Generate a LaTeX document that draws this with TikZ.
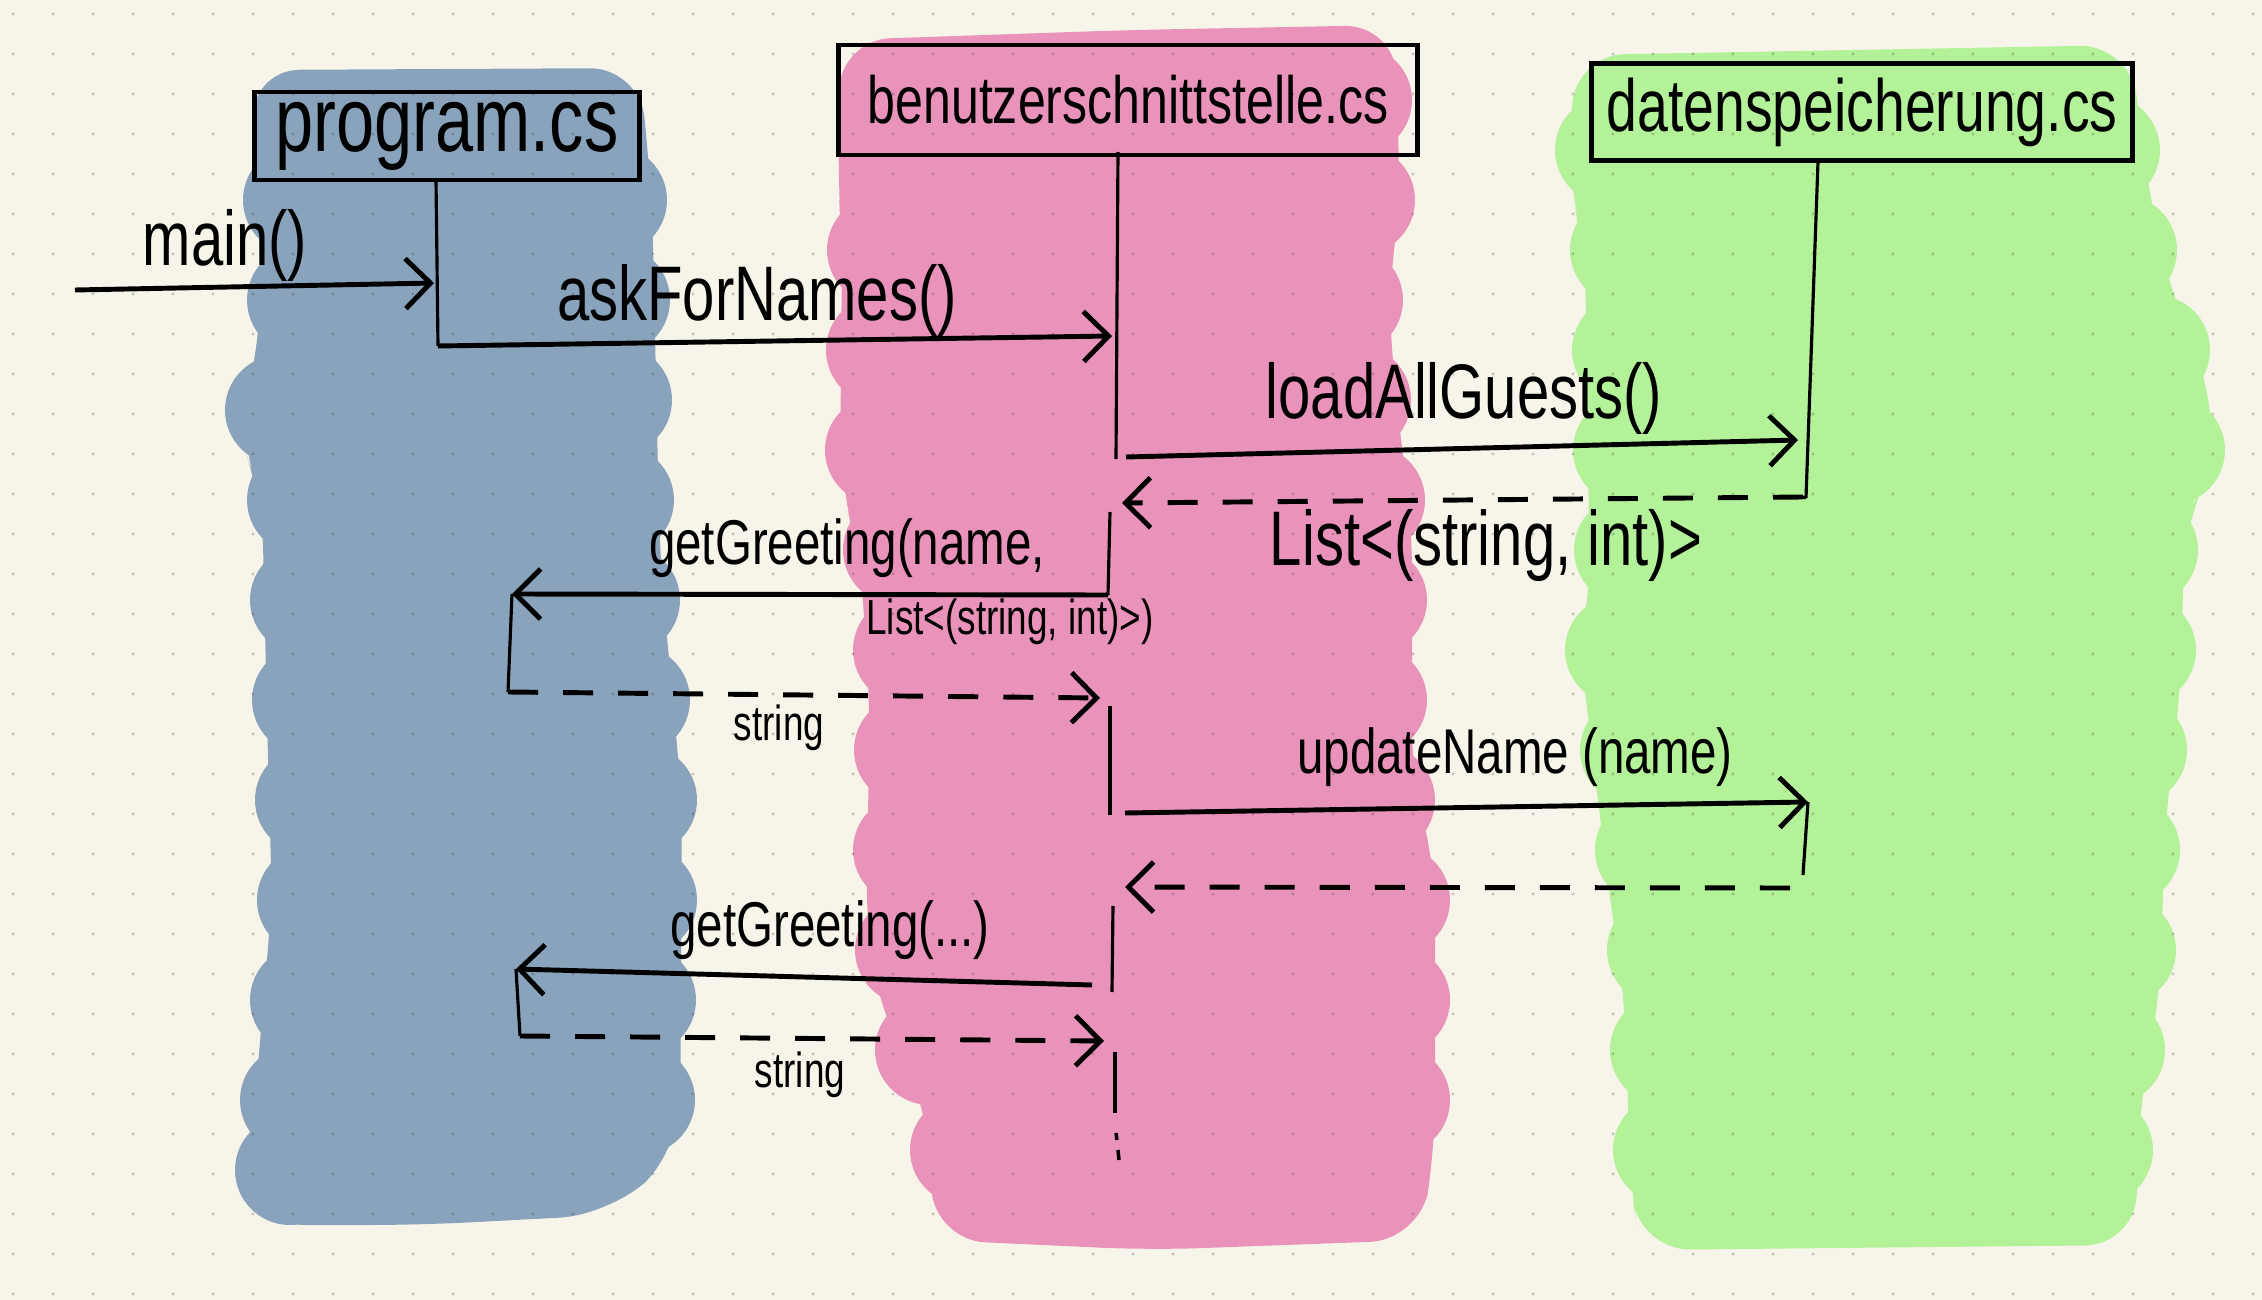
\documentclass[tikz,border=0pt]{standalone}
\usepackage{fontspec}
\setmainfont{Liberation Sans}[FakeStretch=0.75]
\usetikzlibrary{arrows.meta}
\definecolor{papier}{RGB}{247,245,234}
\definecolor{blau}{RGB}{138,163,188}
\definecolor{rosa}{RGB}{234,147,186}
\definecolor{gruen}{RGB}{180,242,154}
\begin{document}
\begin{tikzpicture}[x=0.01cm, y=-0.01cm,
        kopf/.style = {draw, line width=1.4pt, inner sep=0pt},
        lbl/.style = {font=\fontsize{22}{26}\selectfont, inner sep=0pt},
        lblm/.style = {font=\fontsize{18}{21}\selectfont, inner sep=0pt},
        lbls/.style = {font=\fontsize{14}{16}\selectfont, inner sep=0pt},
        leben/.style = {line width=0.9pt},
        msg/.style = {line width=1.4pt, -{Straight Barb[length=2.5mm, width=5mm, line width=1.4pt]}},
        ret/.style = {msg, dash pattern=on 3mm off 2.5mm}]
                \fill[papier] (0,0) rectangle (2262,1300);
                \useasboundingbox (0,0) rectangle (2262,1300);

                \fill[blau, rounded corners=0.5cm] (250,70) -- (640,68) -- (652,200) -- (660,560) -- (682,800) -- (680,1150) -- (610,1215) -- (420,1225) -- (255,1225) -- (250,1160) -- (272,900) -- (268,760) -- (262,500) -- (238,430) -- (262,330) -- (258,200) -- cycle;
                \foreach \cx/\cy in {298/200, 302/300, 280/410, 302/500, 305/600, 307/700, 310/800, 312/900, 305/1000, 295/1100, 290/1170,
                                     612/200, 615/300, 617/400, 619/500, 625/600, 635/700, 642/800, 642/900, 641/1000, 640/1100}
                    \fill[blau] (\cx,\cy) circle (55);
                \fill[rosa, rounded corners=0.5cm] (840,40) -- (1130,30) -- (1395,25) -- (1400,200) -- (1388,300) -- (1398,420) -- (1412,520) -- (1412,780) -- (1435,860) -- (1435,1150) -- (1420,1240) -- (1150,1250) -- (935,1240) -- (925,1100) -- (880,1010) -- (866,930) -- (870,700) -- (860,560) -- (840,480) -- (842,250) -- (838,180) -- cycle;
                \foreach \cx/\cy in {882/250, 881/350, 880/450, 898/550, 908/650, 909/750, 908/850, 910/950, 930/1050, 965/1150,
                                     1357/100, 1360/200, 1348/300, 1356/400, 1370/500, 1372/600, 1372/700, 1380/800, 1395/900, 1395/1000, 1395/1100}
                    \fill[rosa] (\cx,\cy) circle (55);
                \fill[gruen, rounded corners=0.5cm] (1575,55) -- (2130,45) -- (2150,200) -- (2170,290) -- (2215,400) -- (2210,470) -- (2185,520) -- (2180,700) -- (2165,820) -- (2160,1000) -- (2140,1100) -- (2135,1245) -- (1640,1250) -- (1630,1180) -- (1625,1000) -- (1610,900) -- (1580,650) -- (1590,600) -- (1585,250) -- (1568,180) -- cycle;
                \foreach \cx/\cy in {1610/150, 1625/250, 1627/350, 1628/450, 1629/550, 1620/650, 1635/750, 1650/850, 1662/950, 1665/1050, 1668/1150,
                                     2105/150, 2122/250, 2155/350, 2170/450, 2143/550, 2141/650, 2132/750, 2125/850, 2121/950, 2110/1050, 2098/1150}
                    \fill[gruen] (\cx,\cy) circle (55);

                \foreach \i in {0,...,56}
                    \foreach \j in {0,...,32}
                        \fill[black, opacity=0.2] (13+40*\i, 14+40*\j) circle (1.7);

                \node[kopf, minimum width=3.85cm, minimum height=0.88cm, font=\fontsize{26}{30}\selectfont] (prg) at (447,136) {program.cs};
                \node[kopf, minimum width=5.79cm, minimum height=1.1cm, font=\fontsize{19}{22}\selectfont] (ui) at (1128,100) {benutzerschnittstelle.cs};
                \node[kopf, minimum width=5.41cm, minimum height=0.97cm, font=\fontsize{21}{24}\selectfont] (db) at (1862,112) {datenspeicherung.cs};

                \coordinate (prgT) at (436,180);
                \coordinate (prgA) at (438,346);
                \coordinate (prgM) at (434,283);
                \coordinate (mainS) at (75,290);
                \coordinate (uiT) at (1118,152);
                \coordinate (uiB) at (1116,459);
                \coordinate (uiA) at (1112,336);
                \coordinate (uiL) at (1126,457);
                \coordinate (dbT) at (1818,162);
                \coordinate (dbB) at (1806,498);
                \coordinate (dbL) at (1798,440);
                \coordinate (dbR) at (1803,497);
                \coordinate (uiR) at (1122,503);
                \coordinate (uiG1) at (1110,512);
                \coordinate (uiG2) at (1108,595);
                \coordinate (prgG1) at (512,594);
                \coordinate (prgG2) at (508,692);
                \coordinate (uiS) at (1100,698);
                \coordinate (uiU1) at (1110,706);
                \coordinate (uiU2) at (1110,815);
                \coordinate (uiU3) at (1125,813);
                \coordinate (dbU) at (1808,802);
                \coordinate (dbU2) at (1803,875);
                \coordinate (dbV) at (1790,888);
                \coordinate (uiV) at (1125,887);
                \coordinate (uiV1) at (1113,906);
                \coordinate (uiV2) at (1112,992);
                \coordinate (uiV3) at (1092,985);
                \coordinate (prgV) at (516,969);
                \coordinate (prgW) at (520,1036);
                \coordinate (uiW) at (1104,1041);
                \coordinate (uiX1) at (1115,1052);
                \coordinate (uiX2) at (1115,1113);

                \draw[leben] (prgT) to (prgA);
                \draw[leben] (uiT) to (uiB);
                \draw[leben] (dbT) to (dbB);
                \draw[leben] (dbB) to (dbR);
                \draw[leben] (uiG1) to (uiG2);
                \draw[leben] (prgG1) to (prgG2);
                \draw[leben] (uiU1) to (uiU2);
                \draw[leben] (dbU) to (dbU2);
                \draw[leben] (uiV1) to (uiV2);
                \draw[leben] (prgV) to (prgW);
                \draw[leben] (uiX1) to (uiX2);
                \draw[line width=1pt] (1116,1133) to (1117,1140);
                \draw[line width=1pt] (1118,1150) to (1119,1160);

                \draw[msg] (mainS) to (prgM);
                \draw[msg] (prgA) to (uiA);
                \draw[msg] (uiL) to (dbL);
                \draw[ret] (dbR) to (uiR);
                \draw[msg] (uiG2) to (prgG1);
                \draw[ret] (prgG2) to (uiS);
                \draw[msg] (uiU3) to (dbU);
                \draw[ret] (dbV) to (uiV);
                \draw[msg] (uiV3) to (prgV);
                \draw[ret] (prgW) to (uiW);

                \node[lbl] (lmain) at (225,245) {main()};
                \node[lbl] (lask) at (757,300) {askForNames()};
                \node[lbl] (lload) at (1464,398) {loadAllGuests()};
                \node[lbl] (lliste) at (1486,545) {List<(string, int)>};
                \node[lblm] (lgreet) at (847,548) {getGreeting(name,};
                \node[lbls] (lgreet2) at (1010,622) {List<(string, int)>)};
                \node[lbls] (lstr) at (779,728) {string};
                \node[lblm] (lupd) at (1515,757) {updateName (name)};
                \node[lblm] (lgreet3) at (830,930) {getGreeting(...)};
                \node[lbls] (lstr2) at (800,1075) {string};
\end{tikzpicture}
\end{document}
